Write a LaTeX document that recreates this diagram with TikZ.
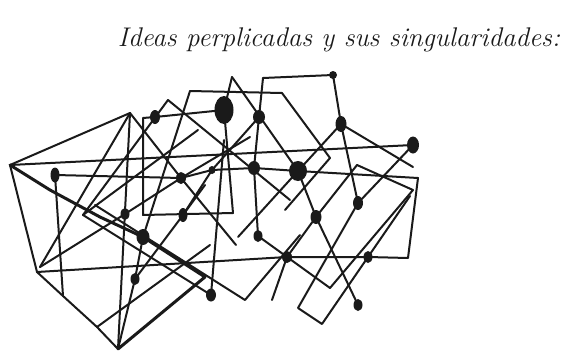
\documentclass[tikz,border=0pt]{standalone}
\definecolor{ink}{HTML}{1A1A1A}
\begin{document}
\begin{tikzpicture}[x=1pt, y=-1pt,
    stroke/.style={draw=ink, line width=2pt, line join=round, line cap=round},
    heavy/.style={stroke, line width=3pt},
    spot/.style={fill=ink}]
  \useasboundingbox (0,0) rectangle (573,351);
  % Title
  \node[font=\fontsize{27}{31}\selectfont\itshape, text=ink, anchor=base] (title) at (339,46) {Ideas perplicadas y sus singularidades:};
  % Corners of the tangle
  \coordinate (L) at (10,165);
  \coordinate (T1) at (130,113);
  \coordinate (B) at (118,349);
  \coordinate (LL) at (37,272);
  \coordinate (Q) at (83,215);
  \coordinate (T2) at (168,100);
  \coordinate (T3) at (190,91);
  \coordinate (T3r) at (282,93);
  \coordinate (T4) at (232,77);
  \coordinate (T5) at (263,78);
  \coordinate (K) at (205,277);
  \coordinate (R1) at (357,165);
  \coordinate (R2) at (413,167);
  \coordinate (R3) at (413,190);
  \coordinate (Rc1) at (418,178);
  \coordinate (Rc2) at (408,258);
  \coordinate (S1) at (97,327);
  \coordinate (S2) at (63,296);
  \coordinate (S3) at (40,267);
  \coordinate (box1) at (143,118);
  \coordinate (box2) at (143,215);
  \coordinate (box3) at (233,213);
  \coordinate (M1) at (298,308);
  \coordinate (M2) at (322,324);
  \coordinate (M3) at (330,288);
  \coordinate (M4) at (245,300);
  \coordinate (C1) at (330,158);
  \coordinate (C2) at (285,210);
  \coordinate (F1) at (290,200);
  \coordinate (F2) at (198,130);
  \coordinate (F3) at (205,185);
  \coordinate (F4) at (250,137);
  \coordinate (F5) at (210,245);
  \coordinate (F6) at (236,245);
  \coordinate (F7) at (238,237);
  \coordinate (F8) at (410,196);
  \coordinate (F9) at (272,300);
  \coordinate (F10) at (95,205);
  \coordinate (F11) at (300,235);
  \coordinate (F12) at (224,140);
  \coordinate (W1) at (50,190);
  \coordinate (W2) at (100,217);
  % Singularities
  \coordinate (d1) at (55,175);
  \coordinate (d2) at (155,117);
  \coordinate (d3) at (224,110);
  \coordinate (d4) at (259,117);
  \coordinate (d5) at (341,124);
  \coordinate (d6) at (413,145);
  \coordinate (d7) at (333,75);
  \coordinate (d8) at (181,178);
  \coordinate (d9) at (212,170);
  \coordinate (d10) at (254,168);
  \coordinate (d11) at (298,171);
  \coordinate (d12) at (125,214);
  \coordinate (d13) at (183,215);
  \coordinate (d14) at (143,237);
  \coordinate (d15) at (135,279);
  \coordinate (d16) at (258,236);
  \coordinate (d17) at (316,217);
  \coordinate (d18) at (358,203);
  \coordinate (d19) at (287,257);
  \coordinate (d20) at (368,257);
  \coordinate (d21) at (211,295);
  \coordinate (d22) at (358,305);
  % Left part
  \draw[stroke] (L) -- (T1) -- (B);
  \draw[stroke] (L) -- (d6);
  \draw[heavy] (L) -- (W1) -- (W2) -- (d14) -- (K) -- (B);
  \draw[stroke] (L) -- (LL) -- (S2) -- (S1) -- (B);
  \draw[stroke] (T1) -- (S3);
  \draw[stroke] (T1) -- (d8) -- (F6);
  \draw[stroke] (d1) -- (S2);
  \draw[stroke] (Q) -- (d21);
  \draw[stroke] (Q) -- (T2) -- (F1);
  \draw[stroke] (Q) -- (F2);
  \draw[stroke] (B) -- (d15) -- (d13) -- (F3);
  \draw[stroke] (S3) -- (d12) -- (d8) -- (F4);
  \draw[stroke] (S1) -- (F5);
  \draw[stroke] (T3) -- (d14) -- (d15);
  \draw[stroke] (F10) -- (M4) -- (F11);
  % Middle part
  \draw[stroke] (d3) -- (box3) -- (box2) -- (box1) -- (d2) -- (d3);
  \draw[stroke] (d21) -- (F12);
  \draw[stroke] (d1) -- (d8) -- (d9) -- (d10) -- (d11) -- (Rc1) -- (Rc2) -- (d20) -- (d19) -- (LL);
  \draw[stroke] (T3) -- (T3r) -- (C1) -- (C2);
  \draw[stroke] (T4) -- (d3);
  \draw[stroke] (T4) -- (d11);
  \draw[stroke] (T5) -- (d4) -- (d10) -- (d16) -- (M3);
  \draw[stroke] (d4) -- (d9) -- (d13);
  % Right part
  \draw[stroke] (T5) -- (d7) -- (d5) -- (d18);
  \draw[stroke] (d5) -- (d11) -- (F7);
  \draw[stroke] (d5) -- (R2);
  \draw[stroke] (R1) -- (R3) -- (M3);
  \draw[stroke] (R1) -- (d17) -- (d19) -- (F9);
  \draw[stroke] (d11) -- (d17) -- (d22);
  \draw[stroke] (d6) -- (d18) -- (M1) -- (M2) -- (d20) -- (F8);
  % Dots
  \fill[spot] (d1) ellipse (4.5 and 7.5);
  \fill[spot] (d2) ellipse (5 and 7);
  \fill[spot] (d3) ellipse (9.5 and 14);
  \fill[spot] (d4) ellipse (6 and 7);
  \fill[spot] (d5) ellipse (5.5 and 8);
  \fill[spot] (d6) ellipse (6 and 8.5);
  \fill[spot] (d7) ellipse (4 and 4);
  \fill[spot] (d8) ellipse (5 and 6);
  \fill[spot] (d9) ellipse (3.5 and 4);
  \fill[spot] (d10) ellipse (6 and 7);
  \fill[spot] (d11) ellipse (9 and 10);
  \fill[spot] (d12) ellipse (4.5 and 6);
  \fill[spot] (d13) ellipse (4.5 and 7);
  \fill[spot] (d14) ellipse (6.5 and 8);
  \fill[spot] (d15) ellipse (4.5 and 6);
  \fill[spot] (d16) ellipse (4.5 and 6);
  \fill[spot] (d17) ellipse (5.5 and 7);
  \fill[spot] (d18) ellipse (5 and 7);
  \fill[spot] (d19) ellipse (5 and 6);
  \fill[spot] (d20) ellipse (4.5 and 6);
  \fill[spot] (d21) ellipse (5 and 6.5);
  \fill[spot] (d22) ellipse (4.5 and 6);
\end{tikzpicture}
\end{document}
